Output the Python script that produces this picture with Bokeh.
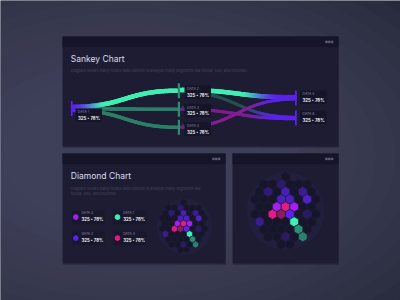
import numpy as np
from bokeh.plotting import figure
from bokeh.models import Range1d
from bokeh.embed import file_html
from bokeh.resources import INLINE
from bokeh.core.properties import value

# ---------------- data ----------------
sankey_nodes = ["DATA 1", "DATA 2", "DATA 3", "DATA 4", "DATA 5", "DATA 6"]
sankey_node_stats = ["325 • 78%", "325 • 78%", "325 • 78%", "325 • 78%", "325 • 78%", "325 • 78%"]
flow_sources = ["DATA 1", "DATA 1", "DATA 1", "DATA 2", "DATA 2", "DATA 3", "DATA 4"]
flow_targets = ["DATA 2", "DATA 3", "DATA 4", "DATA 5", "DATA 6", "DATA 6", "DATA 5"]
flow_values = [45, 35, 35, 45, 30, 30, 30]

legend_names = ["DATA 3", "DATA 1", "DATA 2", "DATA 4"]
legend_stats = ["325 • 78%", "325 • 78%", "325 • 78%", "325 • 78%"]

hex_q = [1, -1, 1, 3, 0, 1, 3, -1, 0, 1, -2, -1, 0, 2, -4, 0, 0, 0, -2]
hex_r = [-3, -2, -2, -2, -1, -1, -1, 0, 0, 0, 1, 1, 1, 1, 2, 2, 3, 4, 4]
hex_series = ["DATA 2", "DATA 2", "DATA 2", "DATA 2", "DATA 2", "DATA 2", "DATA 2",
              "DATA 3", "DATA 4", "DATA 3", "DATA 4", "DATA 4", "DATA 2", "DATA 2",
              "DATA 2", "DATA 1", "DATA 1", "DATA 1", "DATA 2"]
hex_level = [0.35, 0.4, 0.75, 0.55, 0.8, 0.8, 0.85, 1.0, 1.0, 1.0, 1.0, 0.6, 1.0, 0.3,
             0.55, 1.0, 0.55, 0.5, 0.3]
hex_grid_rows = [-4, -3, -2, -1, 0, 1, 2, 3, 4, 5]
hex_grid_qmin = [2, -1, -2, -3, -3, -4, -4, -4, -4, -3]
hex_grid_qmax = [2, 4, 4, 4, 3, 3, 2, 1, 0, -2]

# ---------------- style ----------------
FONT = value("Inter")
PURPLE = "#5a22ea"
series_colors = {"DATA 1": "#3ef0b2", "DATA 2": "#5a22ea", "DATA 3": "#a31ff2", "DATA 4": "#e41b84"}
TILE = "#161529"
PANEL = "#1d1c33"
HEADER = "#151428"
BOX = "#151429"


def h2r(h):
    return np.array([int(h[i:i + 2], 16) for i in (1, 3, 5)], float)


def r2h(c):
    c = np.clip(c, 0, 255)
    return "#%02x%02x%02x" % tuple(int(round(v)) for v in c)


def mix(a, b, t):
    return r2h(h2r(a) * (1 - t) + h2r(b) * t)


def smooth(a, b, u):
    k = np.clip((u - a) / (b - a), 0, 1)
    return k * k * (3 - 2 * k)


W, H = 400, 300
p = figure(width=W, height=H, x_range=Range1d(0, W), y_range=Range1d(H, 0),
           output_backend="svg", toolbar_location=None, x_axis_type=None, y_axis_type=None,
           min_border=0, outline_line_color=None,
           background_fill_color="#1e2130", border_fill_color="#1e2130")
p.grid.visible = False

# background glow
n_glow = 16
for i in range(n_glow):
    f = 1 - i / n_glow
    p.ellipse(x=130, y=155, width=220 + 620 * f, height=120 + 380 * f,
              fill_color="#555a76", fill_alpha=0.07, line_color=None)

# panels
panel_l = [62, 62, 232]
panel_r = [338, 225, 338]
panel_t = [36, 153, 153]
panel_b = [146, 263, 263]
p.quad(left=[l + 0.5 for l in panel_l], right=[r + 0.5 for r in panel_r],
       top=[t + 1 for t in panel_t], bottom=[b + 1.5 for b in panel_b],
       fill_color="#161826", fill_alpha=0.35, line_color=None)
p.quad(left=panel_l, right=panel_r, top=panel_t, bottom=panel_b, fill_color=PANEL, line_color=None)
p.quad(left=panel_l, right=panel_r, top=panel_t, bottom=[t + 10.8 for t in panel_t],
       fill_color=HEADER, line_color=None)
dx, dy = [], []
for r, t in zip(panel_r, panel_t):
    for k in (12, 9.2, 6.4):
        dx.append(r - k)
        dy.append(t + 5.4)
p.scatter(dx, dy, marker="square", size=1.6, color="#5c5b78")

# titles
p.text(x=[70.3, 70.3], y=[58.3, 175.7], text=["Sankey Chart", "Diamond Chart"],
       text_font=FONT, text_font_size="8.5px", text_color="#dcdcec",
       text_baseline="middle", text_align="left")
p.text(x=[70.3, 70.3, 70.3], y=[69.5, 187.6, 192.8],
       text=["Diagram shows many nodes data options to analyze many segments like follow, loss, and incomes.",
             "Diagram shows many nodes data options to analyze many segments like",
             "follow, loss, and incomes"],
       text_font=FONT, text_font_size="3.8px", text_color="#45445f",
       text_baseline="middle", text_align="left")

# ---------------- sankey ----------------
node_layout = {"DATA 1": (71.3, 108.0), "DATA 2": (178.4, 90.2), "DATA 3": (178.4, 108.8),
               "DATA 4": (178.4, 126.8), "DATA 5": (295.4, 97.5), "DATA 6": (295.4, 117.5)}
node_col = {"DATA 1": PURPLE, "DATA 2": "#2e8b6f", "DATA 3": "#2e8b6f", "DATA 4": "#2e8b6f",
            "DATA 5": PURPLE, "DATA 6": PURPLE}
flow_colors = ["#3ef0b2", "#2b7f68", "#2b7f68", "#3ef0b2", "#24514f", "#7e1c93", "#861c96"]
PX = 0.1
PACK = 0.5

out_y, in_y = {}, {}
for node in sankey_nodes:
    cy = node_layout[node][1]
    for lst, store in (([i for i, s in enumerate(flow_sources) if s == node], out_y),
                       ([i for i, s in enumerate(flow_targets) if s == node], in_y)):
        tot = sum(flow_values[i] * PX * PACK for i in lst)
        y = cy - tot / 2
        for i in lst:
            w = flow_values[i] * PX * PACK
            store[i] = y + w / 2
            y += w

draw_order = [4, 1, 2, 5, 6, 3, 0]
for i in draw_order:
    s, t = flow_sources[i], flow_targets[i]
    x0 = node_layout[s][0] + 1.0
    x1 = node_layout[t][0] - 1.0
    y0, y1 = out_y[i], in_y[i]
    tt = np.linspace(0, 1, 70)
    xm = (x0 + x1) / 2
    bx = (1 - tt) ** 3 * x0 + 3 * (1 - tt) ** 2 * tt * xm + 3 * (1 - tt) * tt ** 2 * xm + tt ** 3 * x1
    by = (1 - tt) ** 3 * y0 + 3 * (1 - tt) ** 2 * tt * y0 + 3 * (1 - tt) * tt ** 2 * y1 + tt ** 3 * y1
    tm = (tt[:-1] + tt[1:]) / 2
    base = h2r(flow_colors[i])
    pur = h2r(PURPLE)
    cols = []
    for u in tm:
        c = base.copy()
        if node_col[s] == PURPLE:
            k = smooth(0.0, 0.28, u)
            c = pur * (1 - k) + c * k
        if node_col[t] == PURPLE:
            k = smooth(0.55, 0.92, u)
            c = c * (1 - k) + pur * k
        cols.append(r2h(c))
    p.segment(bx[:-1], by[:-1], bx[1:], by[1:], line_color=cols,
              line_width=flow_values[i] * PX, line_cap="round")

# node bars
bar_h = 15
for node in sankey_nodes:
    x, cy = node_layout[node]
    wbar = 2.2 if node_col[node] != PURPLE else 1.8
    p.quad(left=x - wbar / 2, right=x + wbar / 2, top=cy - bar_h / 2, bottom=cy + bar_h / 2,
           fill_color=node_col[node], line_color=None)

# small indicators by middle nodes
ind_col = {"DATA 2": "#3ef0b2", "DATA 3": "#2a4a4a", "DATA 4": "#2a4a4a"}
for node in ["DATA 2", "DATA 3", "DATA 4"]:
    x, cy = node_layout[node]
    p.quad(left=x + 3.2, right=x + 4.8, top=cy - 3.2, bottom=cy + 0.4,
           fill_color=ind_col[node], line_color=None)

# node label boxes
box_off = {"DATA 1": (3.7, 0.0), "DATA 2": (5.6, -5.2), "DATA 3": (5.6, -5.5), "DATA 4": (5.6, -5.1),
           "DATA 5": (4.1, -7.5), "DATA 6": (4.1, -7.5)}
bl, bt, lab_x, lab_y, val_y = [], [], [], [], []
for node in sankey_nodes:
    x, cy = node_layout[node]
    ox, oy = box_off[node]
    left, top = x + ox, cy + oy
    bl.append(left)
    bt.append(top)
    lab_x.append(left + 2.6)
    lab_y.append(top + 3.9)
    val_y.append(top + 9.9)
p.quad(left=bl, right=[b + 26.5 for b in bl], top=bt, bottom=[b + 13.5 for b in bt],
       fill_color=BOX, line_color=None)
p.text(x=lab_x, y=lab_y, text=sankey_nodes, text_font=FONT, text_font_size="3.4px",
       text_color="#8c8ca6", text_baseline="middle")
p.text(x=lab_x, y=val_y, text=sankey_node_stats, text_font=FONT, text_font_size="4.3px",
       text_font_style="bold", text_color="#f2f2f8", text_baseline="middle")

# ---------------- diamond legend ----------------
leg_left = [71, 112.7, 71, 112.7]
leg_top = [209.7, 209.7, 230.7, 230.7]
p.quad(left=leg_left, right=[l + 33.5 for l in leg_left], top=leg_top,
       bottom=[t + 14 for t in leg_top], fill_color="#18172c", line_color="#211f38", line_width=0.6)
p.scatter([l + 4.3 for l in leg_left], [t + 6.9 for t in leg_top], size=4.8,
          color=[series_colors[n] for n in legend_names])
p.text(x=[l + 10 for l in leg_left], y=[t + 3.1 for t in leg_top], text=legend_names,
       text_font=FONT, text_font_size="3.4px", text_color="#8c8ca6", text_baseline="middle")
p.text(x=[l + 10 for l in leg_left], y=[t + 9.4 for t in leg_top], text=legend_stats,
       text_font=FONT, text_font_size="4.3px", text_font_style="bold", text_color="#f2f2f8",
       text_baseline="middle")

# ---------------- hex (diamond) charts ----------------
grid_q, grid_r = [], []
for r, qa, qb in zip(hex_grid_rows, hex_grid_qmin, hex_grid_qmax):
    for q in range(qa, qb + 1):
        grid_q.append(q)
        grid_r.append(r)
tile_cols = [mix(TILE, series_colors[s], lv) for s, lv in zip(hex_series, hex_level)]

hex_charts = [  # (centre x, centre y of tile q=0,r=0, tile size, glow circle)
    ("big", 285.0, 206.3, 5.0, (285, 210.5, 39)),
    ("small", 183.0, 223.1, 3.5, (184, 226, 28)),
]
p.extra_x_ranges = {}
p.extra_y_ranges = {}
for name, cx, cy, size, glow in hex_charts:
    p.circle(x=glow[0], y=glow[1], radius=glow[2], fill_color="#211f3b", line_color=None)
    p.extra_x_ranges["x_" + name] = Range1d(-cx, W - cx)
    p.extra_y_ranges["y_" + name] = Range1d(cy - H, cy)
    p.hex_tile(q=grid_q, r=grid_r, size=size, fill_color=TILE, line_color="#1f1e38",
               line_width=0.7, x_range_name="x_" + name, y_range_name="y_" + name)
    p.hex_tile(q=hex_q, r=hex_r, size=size, fill_color=tile_cols, line_color="#1f1e38",
               line_width=0.7, x_range_name="x_" + name, y_range_name="y_" + name)

open("out.html", "w").write(file_html(p, INLINE))
